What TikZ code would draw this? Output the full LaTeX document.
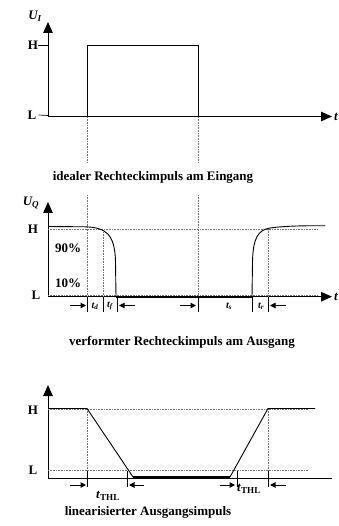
\documentclass[tikz,border=0pt]{standalone}
\usepackage{fontspec}
\setmainfont{Liberation Serif}
\usetikzlibrary{arrows.meta}

\tikzset{
  axis/.style={line width=1pt, -{Triangle[length=11pt,width=9.5pt]}},
  guide/.style={densely dotted, black!55, line width=0.6pt},
  signal/.style={line width=0.9pt},
  heavy/.style={line width=2pt},
  marker/.style={line width=1pt, -{Triangle[length=5.5pt,width=5.5pt]}},
  lbl/.style={font=\bfseries\fontsize{13}{14}\selectfont, inner sep=0pt},
  small/.style={font=\bfseries\itshape\fontsize{10}{11}\selectfont, inner sep=0pt},
}

\begin{document}
\begin{tikzpicture}[x=1pt, y=-1pt]
\useasboundingbox (0,0) rectangle (338,526);

% Eingang: ideal pulse
\draw[axis] (48,117) -- (48,22);
\draw[axis] (48,116.5) -- (332,116.5);
\node[lbl] (ui) at (35,16) {\textit{U\textsubscript{I}}};
\node[lbl] (hi) at (33,45.5) {H};
\node[lbl] (li) at (32,115) {L};
\node[lbl, anchor=west] (ti) at (334,116.5) {\textit{t}};
\draw[line width=0.7pt] (hi.east) -- (48,45.5);
\draw[line width=0.7pt] (li.east) ++(2,0) -- (48,115.5);
\draw[signal] (48,116.5) -- (87,116.5) -- (87,45.5) -- (198,45.5) -- (198,116.5) -- (320,116.5);
\foreach \x in {87,198} {
    \draw[guide] (\x,117) -- (\x,162);
}
\node[lbl] (capi) at (153,177) {idealer Rechteckimpuls am Eingang};

% Ausgang: real pulse
\draw[axis] (48,297) -- (48,202);
\draw[axis] (48,296.7) -- (332,296.7);
\node[lbl] (uq) at (31,203) {\textit{U\textsubscript{Q}}};
\node[lbl] (hq) at (33,229) {H};
\node[lbl] (lq) at (36,295) {L};
\node[lbl] (pc90) at (68,248) {90\%};
\node[lbl] (pc10) at (68,283) {10\%};
\node[lbl, anchor=west] (tq) at (334,297) {\textit{t}};
\draw[guide] (48,229) -- (318,229);
\draw[guide] (48,295) -- (318,295);
\draw[guide] (87,195) -- (87,297);
\draw[guide] (198,195) -- (198,297);
\draw[guide] (103,232) -- (103,297);
\draw[guide] (268,229) -- (268,297);
\draw[signal] (48,226.5) -- (85,226.8) .. controls (105,227.5) and (115,233) .. (115.5,262) -- (116,297);
\draw[heavy] (116,297) -- (252,297);
\draw[signal] (252,297) -- (252.5,262) .. controls (253,238) and (258,230) .. (270,228) .. controls (285,226) and (300,225.7) .. (325,225.7);
\foreach \x in {87,103,117,198,252,268} {
    \draw[line width=0.7pt] (\x,297) -- (\x,312);
}
\draw[marker] (70,305.5) -- (86,305.5);
\draw[marker] (135,305.5) -- (119,305.5);
\draw[marker] (180,305.5) -- (196,305.5);
\draw[marker] (286,305.5) -- (270,305.5);
\node[small] (td) at (95,306) {t\textsubscript{d}};
\node[small] (tf) at (110,306) {t\textsubscript{f}};
\node[small] (ts) at (229,306) {t\textsubscript{s}};
\node[small] (tr) at (261,306) {t\textsubscript{r}};
\node[lbl] (capq) at (182,342) {verformter Rechteckimpuls am Ausgang};

% linearised output
\draw[axis] (48,478) -- (48,385);
\draw[line width=1pt] (48,478) -- (332,478);
\node[lbl] (hl) at (33,410) {H};
\node[lbl] (ll) at (33,470) {L};
\draw[guide] (48,409) -- (308,409);
\draw[guide] (48,470) -- (308,470);
\draw[guide] (87,409) -- (87,478);
\draw[guide] (268,409) -- (268,478);
\draw[signal] (48,408.5) -- (87,408.5) -- (133,477);
\draw[heavy] (133,477) -- (230,477);
\draw[signal] (230,477) -- (268,408.5) -- (315,408.5);
\foreach \x in {87,127,237,268} {
    \draw[line width=0.7pt] (\x,471) -- (\x,487);
}
\draw[marker] (70,485) -- (86,485);
\draw[marker] (144,485) -- (129,485);
\draw[marker] (220,485) -- (235,485);
\draw[marker] (286,485) -- (270,485);
\node[lbl] (thl1) at (108,496) {\textit{t}\textsubscript{THL}};
\node[lbl] (thl2) at (249,489) {\textit{t}\textsubscript{THL}};
\node[lbl] (capl) at (148,512) {linearisierter Ausgangsimpuls};

\end{tikzpicture}
\end{document}
